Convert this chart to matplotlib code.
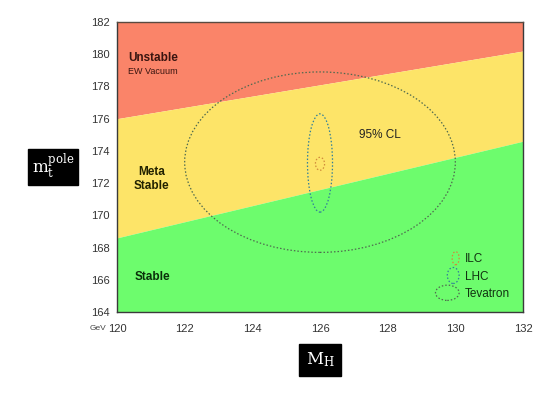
import matplotlib
matplotlib.use("Agg")
import matplotlib.pyplot as plt
from matplotlib.patches import Ellipse
from matplotlib.legend_handler import HandlerPatch
import numpy as np

plt.rcParams["mathtext.fontset"] = "dejavuserif"
plt.rcParams["font.family"] = ["Liberation Sans", "DejaVu Sans"]

# Data
x_range = [120, 132]
y_range = [164, 182]
x_ticks = [120, 122, 124, 126, 128, 130, 132]
y_ticks = [164, 166, 168, 170, 172, 174, 176, 178, 180, 182]
upper_boundary = [176.0, 180.2]   # unstable / metastable at x=120, x=132
lower_boundary = [168.6, 174.6]   # metastable / stable at x=120, x=132

ellipse_names = ["ILC", "LHC", "Tevatron"]
ellipse_centers = [(126.0, 173.2), (126.0, 173.25), (126.0, 173.3)]
ellipse_widths = [0.27, 0.74, 8.0]
ellipse_heights = [0.8, 6.1, 11.2]
ellipse_colors = ["#d08a3a", "#2f7f9a", "#4f6a4f"]

c_red = "#fa8469"
c_yellow = "#fde468"
c_green = "#6dfc6d"

fig = plt.figure(figsize=(5.54, 3.94), dpi=100)
fig.patch.set_facecolor("white")
ax = fig.add_axes([117/554, 1-312/394, 406/554, 290/394])

xs = np.array(x_range, dtype=float)
ub = np.array(upper_boundary)
lb = np.array(lower_boundary)
ax.fill_between(xs, ub, y_range[1], color=c_red, lw=0, zorder=1)
ax.fill_between(xs, lb, ub, color=c_yellow, lw=0, zorder=1)
ax.fill_between(xs, y_range[0], lb, color=c_green, lw=0, zorder=1)

handles = []
for name, c, w, h, col in zip(ellipse_names, ellipse_centers, ellipse_widths,
                               ellipse_heights, ellipse_colors):
    e = Ellipse(c, w, h, fill=False, edgecolor=col, lw=0.9,
                linestyle=(0, (1.2, 1.6)), zorder=3, label=name)
    ax.add_patch(e)
    handles.append(e)

class HandlerEllipse(HandlerPatch):
    def create_artists(self, legend, orig_handle, xdescent, ydescent,
                       width, height, fontsize, trans):
        sizes = {"ILC": (5, 9.5), "LHC": (8.5, 11.5), "Tevatron": (17, 11)}
        w, h = sizes.get(orig_handle.get_label(), (8, 8))
        cx = width - 1 - w / 2
        p = Ellipse((cx, height / 2), w, h, fill=False,
                    edgecolor=orig_handle.get_edgecolor(), lw=0.9,
                    linestyle=(0, (1.2, 1.6)))
        p.set_transform(trans)
        return [p]

leg = ax.legend(handles=handles, labels=ellipse_names,
                handler_map={Ellipse: HandlerEllipse()},
                loc="lower right", bbox_to_anchor=(0.995, 0.005),
                frameon=False, fontsize=8.5, handlelength=1.7,
                handletextpad=0.4, labelspacing=0.45)
for t in leg.get_texts():
    t.set_color("#113311")

ax.set_xlim(*x_range)
ax.set_ylim(*y_range)
ax.set_xticks(x_ticks)
ax.set_yticks(y_ticks)
ax.tick_params(length=0, labelsize=8, colors="#333333")
ax.tick_params(axis="x", pad=9)
ax.tick_params(axis="y", pad=5)
for s in ax.spines.values():
    s.set_color("#3a3a3a")
    s.set_linewidth(1.0)
ax.spines["top"].set_color("#5a4a40")

ax.text(0.028, 0.875, "Unstable", transform=ax.transAxes, fontsize=8.5,
        fontweight="bold", color="#3a1510", va="center")
ax.text(0.028, 0.828, "EW Vacuum", transform=ax.transAxes, fontsize=6.5,
        color="#3a1510", va="center")
ax.text(0.086, 0.46, "Meta\nStable", transform=ax.transAxes, fontsize=8.5,
        fontweight="bold", color="#222200", ha="center", va="center",
        linespacing=1.2)
ax.text(0.043, 0.12, "Stable", transform=ax.transAxes, fontsize=8.5,
        fontweight="bold", color="#0a300a", va="center")
ax.text(127.15, 175.0, "95% CL", fontsize=8.5, color="#222222", va="center")

fig.text(106/554, 1-328/394, "GeV", fontsize=6, color="#444444",
         ha="right", va="center")

fig.text(53/554, 1-167/394, r"$\mathrm{m}_\mathrm{t}^\mathrm{pole}$",
         fontsize=12, color="white", ha="center", va="center",
         bbox=dict(boxstyle="square,pad=0.22", fc="black", ec="black"))
fig.text(320/554, 1-360/394, r"$\mathrm{M}_\mathrm{H}$",
         fontsize=12, color="white", ha="center", va="center",
         bbox=dict(boxstyle="square,pad=0.4", fc="black", ec="black"))

fig.savefig("out.png", dpi=100)
